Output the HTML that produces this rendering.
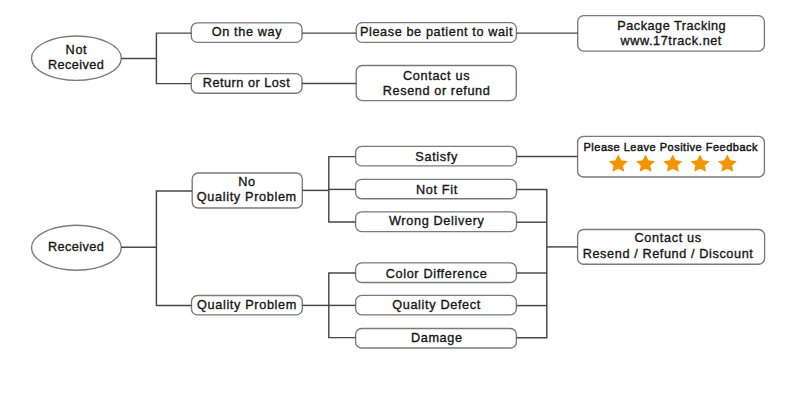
<!DOCTYPE html>
<html><head><meta charset="utf-8">
<style>
html,body{margin:0;padding:0;background:#fff;}
body{width:800px;height:400px;position:relative;overflow:hidden;font-family:"Liberation Sans",sans-serif;}
svg{position:absolute;left:0;top:0;}
.t{position:absolute;width:300px;text-align:center;line-height:15px;white-space:nowrap;color:#161616;letter-spacing:.65px;-webkit-text-stroke:.35px #161616;}
</style></head><body>
<svg width="800" height="400" viewBox="0 0 800 400">
<g fill="#fff" stroke="#7a7a7a" stroke-width="1.35">
<rect x="191.3" y="22.8" width="110.70" height="19.60" rx="6" ry="6"/>
<rect x="191.3" y="73.6" width="110.70" height="19.60" rx="6" ry="6"/>
<rect x="356.2" y="22.6" width="160.20" height="19.80" rx="6" ry="6"/>
<rect x="356.2" y="65.5" width="160.10" height="35.10" rx="6" ry="6"/>
<rect x="577.7" y="15.6" width="186.70" height="35.50" rx="6" ry="6"/>
<rect x="192.2" y="173" width="110.10" height="35.00" rx="6" ry="6"/>
<rect x="191.5" y="295.5" width="110.80" height="19.40" rx="6" ry="6"/>
<rect x="355.6" y="146.4" width="160.90" height="19.50" rx="6" ry="6"/>
<rect x="355.6" y="179.3" width="160.90" height="19.40" rx="6" ry="6"/>
<rect x="355.6" y="211.8" width="160.90" height="19.80" rx="6" ry="6"/>
<rect x="355.6" y="262.9" width="160.80" height="19.60" rx="6" ry="6"/>
<rect x="355.6" y="295.4" width="160.80" height="19.40" rx="6" ry="6"/>
<rect x="355.6" y="328.5" width="160.80" height="19.50" rx="6" ry="6"/>
<rect x="577.6" y="136.3" width="186.80" height="40.70" rx="6" ry="6"/>
<rect x="577.6" y="229.5" width="187.00" height="34.70" rx="6" ry="6"/>
<ellipse cx="76.4" cy="58.2" rx="44.9" ry="22.2"/>
<ellipse cx="76.4" cy="247.7" rx="44.9" ry="22.5"/>
</g>
<g fill="none" stroke="#474747" stroke-width="1.45" stroke-linejoin="miter">
<path d="M121 58.4H156.4"/>
<path d="M191.3 33.1H156.4V83.6H191.3"/>
<path d="M302 33.1H356.2"/>
<path d="M302 83.4H356.2"/>
<path d="M516.4 33.1H577.7"/>
<path d="M121 247.3H156.4"/>
<path d="M192.2 191H156.4V305.4H191.5"/>
<path d="M302.3 190.4H328.8"/>
<path d="M355.6 156.6H328.8V222H355.6"/>
<path d="M328.8 189.4H355.6"/>
<path d="M302.3 305.4H328.8"/>
<path d="M355.6 273H328.8V337.6H355.6"/>
<path d="M328.8 305.4H355.6"/>
<path d="M516.5 156.4H577.6"/>
<path d="M516.5 189.4H546.8V337.8H516.4"/>
<path d="M516.5 222.2H546.8"/>
<path d="M516.4 273H546.8"/>
<path d="M516.4 305.6H546.8"/>
<path d="M546.8 246.9H577.6"/>
</g>
<g fill="#f59300">
<path d="M618.30,154.50 L621.23,160.26 L627.89,161.13 L623.04,165.57 L624.22,171.87 L618.30,168.85 L612.38,171.87 L613.56,165.57 L608.71,161.13 L615.37,160.26Z"/>
<path d="M645.55,154.50 L648.48,160.26 L655.14,161.13 L650.29,165.57 L651.47,171.87 L645.55,168.85 L639.63,171.87 L640.81,165.57 L635.96,161.13 L642.62,160.26Z"/>
<path d="M672.80,154.50 L675.73,160.26 L682.39,161.13 L677.54,165.57 L678.72,171.87 L672.80,168.85 L666.88,171.87 L668.06,165.57 L663.21,161.13 L669.87,160.26Z"/>
<path d="M700.05,154.50 L702.98,160.26 L709.64,161.13 L704.79,165.57 L705.97,171.87 L700.05,168.85 L694.13,171.87 L695.31,165.57 L690.46,161.13 L697.12,160.26Z"/>
<path d="M727.30,154.50 L730.23,160.26 L736.89,161.13 L732.04,165.57 L733.22,171.87 L727.30,168.85 L721.38,171.87 L722.56,165.57 L717.71,161.13 L724.37,160.26Z"/>
</g>
</svg>
<div class="t" style="left:96.98px;top:24.70px;font-size:12.7px">On the way</div>
<div class="t" style="left:96.50px;top:75.75px;font-size:12.7px;letter-spacing:0.5px">Return or Lost</div>
<div class="t" style="left:286.55px;top:24.90px;font-size:12.7px;letter-spacing:0.6px">Please be patient to wait</div>
<div class="t" style="left:286.57px;top:68.80px;font-size:12.7px">Contact us</div>
<div class="t" style="left:286.60px;top:83.80px;font-size:12.7px;letter-spacing:0.6px">Resend or refund</div>
<div class="t" style="left:521.75px;top:18.80px;font-size:12.7px;letter-spacing:0.5px">Package Tracking</div>
<div class="t" style="left:521.27px;top:33.90px;font-size:12.7px;letter-spacing:0.55px">www.17track.net</div>
<div class="t" style="left:-73.58px;top:42.80px;font-size:12.7px">Not</div>
<div class="t" style="left:-73.88px;top:57.80px;font-size:12.7px;letter-spacing:0.45px">Received</div>
<div class="t" style="left:-73.88px;top:240.40px;font-size:12.7px;letter-spacing:0.45px">Received</div>
<div class="t" style="left:97.02px;top:174.60px;font-size:12.7px">No</div>
<div class="t" style="left:96.83px;top:190.00px;font-size:12.7px">Quality Problem</div>
<div class="t" style="left:97.02px;top:298.00px;font-size:12.7px">Quality Problem</div>
<div class="t" style="left:286.68px;top:149.80px;font-size:12.7px">Satisfy</div>
<div class="t" style="left:286.93px;top:182.80px;font-size:12.7px">Not Fit</div>
<div class="t" style="left:286.77px;top:213.90px;font-size:12.7px">Wrong Delivery</div>
<div class="t" style="left:286.57px;top:266.50px;font-size:12.7px">Color Difference</div>
<div class="t" style="left:286.57px;top:297.60px;font-size:12.7px">Quality Defect</div>
<div class="t" style="left:286.82px;top:330.65px;font-size:12.7px">Damage</div>
<div class="t" style="left:520.80px;top:140.20px;font-size:11px;letter-spacing:0.5px;-webkit-text-stroke:.45px #161616">Please Leave Positive Feedback</div>
<div class="t" style="left:518.12px;top:231.30px;font-size:12.7px">Contact us</div>
<div class="t" style="left:518.10px;top:246.80px;font-size:12.7px;letter-spacing:0.6px">Resend / Refund / Discount</div>
</body></html>
